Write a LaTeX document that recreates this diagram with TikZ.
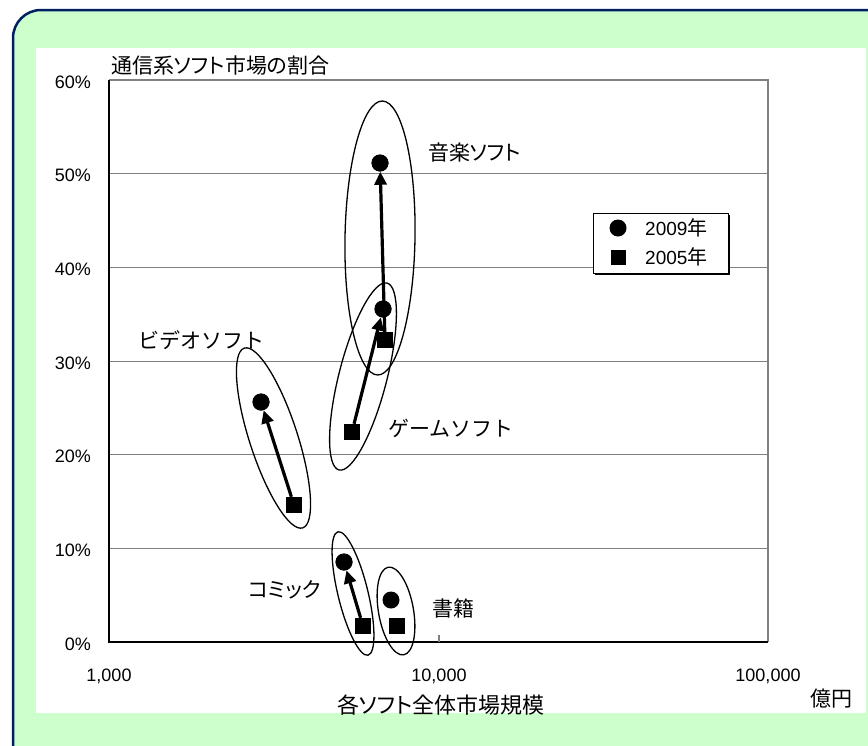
\documentclass[tikz,border=0pt]{standalone}
\usepackage{fontspec}
\setmainfont{Liberation Sans}
\newfontfamily\jp[RawFeature=+palt]{Noto Sans CJK JP}
\newfontfamily\jpw{Noto Sans CJK JP}
\usetikzlibrary{arrows.meta,shapes.geometric}
\definecolor{bgreen}{RGB}{204,255,204}
\definecolor{navy}{RGB}{0,32,96}
\definecolor{gridgray}{RGB}{128,128,128}
\begin{document}
\begin{tikzpicture}[x=1pt,y=-1pt,
  dot/.style={circle,fill=black,minimum size=17pt,inner sep=0pt},
  sq/.style={rectangle,fill=black,minimum size=16pt,inner sep=0pt},
  ring/.style={ellipse,draw=black,line width=1.3pt,inner sep=0pt},
  arr/.style={line width=3.2pt,-{Triangle[length=13pt,width=12pt]}},
  lbl/.style={font=\jp\fontsize{21}{25}\selectfont,inner sep=0pt,anchor=west},
  lblw/.style={font=\jpw\fontsize{21}{25}\selectfont,inner sep=0pt,anchor=west},
  num/.style={font=\fontsize{18}{21}\selectfont,inner sep=0pt},
  gridline/.style={draw=gridgray,line width=1pt}
]
\useasboundingbox (0,0) rectangle (868,745);
\clip (0,0) rectangle (868,745);
% panel
\draw[fill=bgreen,draw=navy,line width=2.5pt,rounded corners=28pt] (13,10) rectangle (900,772);
\fill[white] (36,48) rectangle (866,713);
% grid
\foreach \yy in {173.67,267.33,361,454.67,548.33}
  \draw[gridline] (109,\yy) -- (768,\yy);
\draw[gridgray,line width=2pt] (109,80) -- (768,80) -- (768,642);
\draw[black,line width=1.5pt] (109,80) -- (109,642) -- (768,642);
\draw[gridgray,line width=1.2pt] (439,642) -- (439,635);
% y labels
\foreach \v/\yy in {0/642,10/548.33,20/454.67,30/361,40/267.33,50/173.67,60/80}
  \node[num,anchor=east] (yl\v) at (91,\yy+2) {\v\%};
% x labels
\node[num] (x1) at (109,676) {1,000};
\node[num] (x2) at (439,676) {10,000};
\node[num] (x3) at (768,676) {100,000};
\node[font=\jp\fontsize{22}{26}\selectfont,inner sep=0pt] (xt) at (441,705) {各ソフト全体市場規模};
\node[font=\jp\fontsize{21}{25}\selectfont,inner sep=0pt] (unit) at (831,699) {億円};
\node[lbl] (yt) at (111,66) {通信系ソフト市場の割合};
% ellipses
\node[ring,minimum width=274pt,minimum height=70pt,rotate=89] (emusic) at (380,238) {};
\node[ring,minimum width=193pt,minimum height=48pt,rotate=75.6] (egame) at (363,376.5) {};
\node[ring,minimum width=189pt,minimum height=48pt,rotate=108] (evideo) at (273.5,438) {};
\node[ring,minimum width=127pt,minimum height=30pt,rotate=103.7] (ecomic) at (353,593.5) {};
\node[ring,minimum width=89pt,minimum height=35pt,rotate=100] (ebook) at (396,611) {};
% markers (2005)
\node[sq]  (ms) at (385,340) {};
\node[sq]  (gs) at (352,432) {};
\node[sq]  (vs) at (294,505) {};
\node[sq]  (cs) at (363,626) {};
\node[sq]  (bs) at (397,626) {};
% markers (2009)
\node[dot] (mc) at (380,163) {};
\node[dot] (gc) at (383,309) {};
\node[dot] (vc) at (261,402) {};
\node[dot] (cc) at (344,562) {};
\node[dot] (bc) at (391,600) {};
% arrows
\draw[arr] (ms) -- (mc);
\draw[arr] (vs) -- (vc);
\draw[arr] (cs) -- (cc);
\draw[arr] (gs) -- (gc);
% redraw markers above arrows
\foreach \n in {gc,vc,cc,mc} \fill (\n) circle (8.5pt);
\fill ([shift={(-8pt,-8pt)}]ms.center) rectangle ([shift={(8pt,8pt)}]ms.center);
% labels
\node[lbl] (lmusic) at (428,153) {音楽ソフト};
\node[lblw] (lvideo) at (138,340) {ビデオソフト};
\node[lblw] (lgame) at (388,428) {ゲームソフト};
\node[lbl] (lcomic) at (248,590) {コミック};
\node[lbl] (lbook) at (432,608) {書籍};
% legend
\fill[black] (595,215) rectangle (730,275);
\draw[fill=white,draw=black,line width=1pt] (593,213) rectangle (728,273);
\node[dot] (lgc) at (618,228) {};
\node[sq,minimum size=15pt] (lgs) at (618,257) {};
\node[anchor=west,inner sep=0pt,font=\fontsize{19}{22}\selectfont] (lg1) at (645,228) {2009{\jp\fontsize{20}{22}\selectfont 年}};
\node[anchor=west,inner sep=0pt,font=\fontsize{19}{22}\selectfont] (lg2) at (645,257) {2005{\jp\fontsize{20}{22}\selectfont 年}};
\end{tikzpicture}
\end{document}
